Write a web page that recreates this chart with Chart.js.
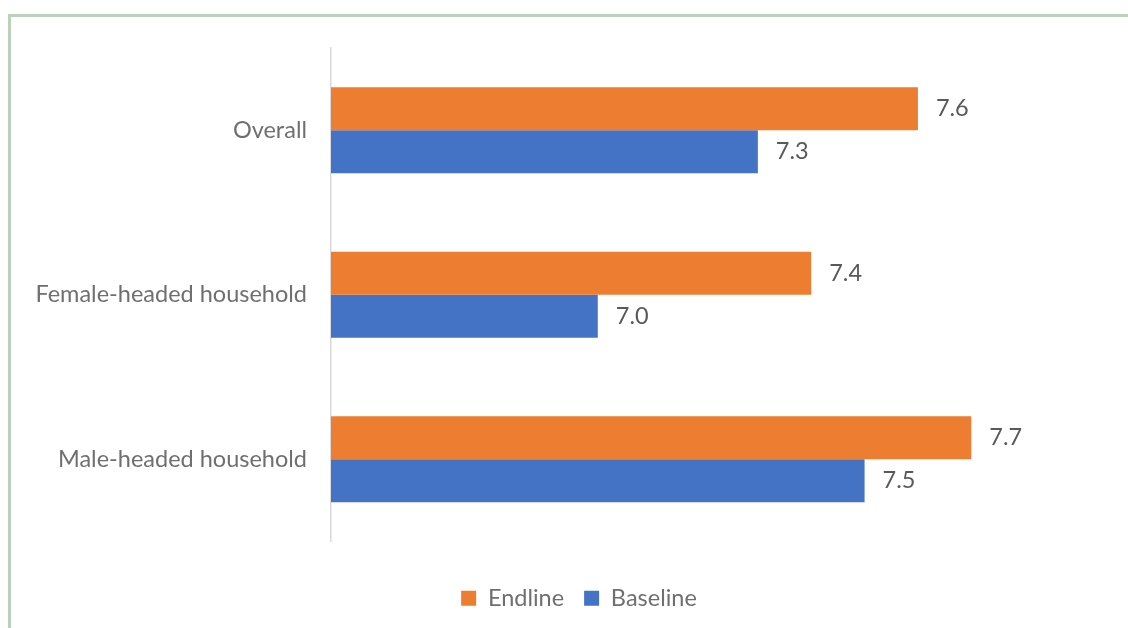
<!DOCTYPE html>
<html>
<head>
<meta charset="utf-8">
<script src="https://cdn.jsdelivr.net/npm/chart.js@4"></script>
<style>
  html, body { margin: 0; padding: 0; background: #fff; }
  #wrap { position: relative; width: 1128px; height: 628px; overflow: hidden; }
  #frame { position: absolute; left: 8px; top: 14px; width: 1200px; height: 700px;
           border-left: 3px solid #bcd1bc; border-top: 3px solid #bcd1bc; box-sizing: border-box; }
  #myChart { position: absolute; left: 0; top: 0; }
</style>
</head>
<body>
<div id="wrap">
  <div id="frame"></div>
  <canvas id="myChart" width="1128" height="628"></canvas>
</div>
<script>
const categories = ['Overall', 'Female-headed household', 'Male-headed household'];
const endline = [7.6, 7.4, 7.7];
const baseline = [7.3, 7.0, 7.5];

const FONT = 'Lato';
const SIZE = 23.5;
const LABEL = '#6f6f6f';
const VALUE = '#595959';

// draws the value next to the end of each bar
const barValues = {
  id: 'barValues',
  afterDatasetsDraw(chart) {
    const ctx = chart.ctx;
    ctx.save();
    ctx.font = SIZE + 'px ' + FONT;
    ctx.fillStyle = VALUE;
    ctx.textAlign = 'left';
    ctx.textBaseline = 'middle';
    chart.data.datasets.forEach((ds, i) => {
      chart.getDatasetMeta(i).data.forEach((bar, j) => {
        ctx.fillText(ds.data[j].toFixed(1), bar.x + 18, bar.y);
      });
    });
    ctx.restore();
  }
};

// legend sits a bit right of the canvas centre in the original
const legendShift = {
  id: 'legendShift',
  afterLayout(chart) {
    chart.legend.left += 40;
    chart.legend.right += 40;
  }
};

const ctx = document.getElementById('myChart').getContext('2d');
new Chart(ctx, {
  type: 'bar',
  data: {
    labels: categories,
    datasets: [
      { label: 'Endline', data: endline, backgroundColor: '#ED7D31' },
      { label: 'Baseline', data: baseline, backgroundColor: '#4472C4' }
    ]
  },
  options: {
    indexAxis: 'y',
    responsive: false,
    animation: false,
    barPercentage: 1,
    categoryPercentage: 0.522,
    layout: { padding: { top: 48, right: 50, bottom: 8, left: 0 } },
    scales: {
      x: {
        min: 6.5,
        max: 7.9,
        ticks: { display: false },
        grid: { display: false },
        border: { display: false },
        afterFit: (s) => { s.height = 25; }
      },
      y: {
        grid: { display: false, drawTicks: false },
        border: { color: '#d9d9d9', width: 1.5 },
        ticks: { color: LABEL, padding: 24, font: { family: FONT, size: SIZE } },
        afterFit: (s) => { s.width = 331; }
      }
    },
    plugins: {
      tooltip: { enabled: false },
      legend: {
        position: 'bottom',
        labels: {
          color: LABEL,
          boxWidth: 15,
          boxHeight: 15,
          padding: 20,
          font: { family: FONT, size: SIZE }
        }
      }
    }
  },
  plugins: [barValues, legendShift]
});
</script>
</body>
</html>
